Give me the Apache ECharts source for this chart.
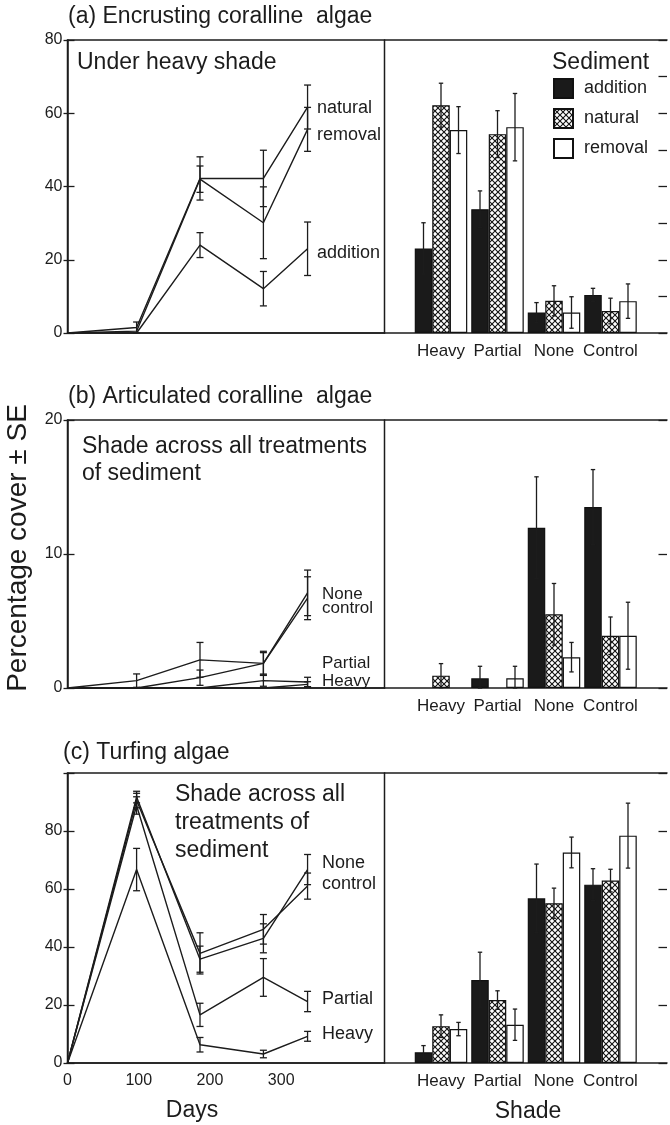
<!DOCTYPE html>
<html><head><meta charset="utf-8">
<script src="https://cdn.jsdelivr.net/npm/echarts@6/dist/echarts.min.js"></script>
<style>html,body{margin:0;padding:0;background:#fff;overflow:hidden}#c{width:670px;height:1125px}</style>
</head><body><div id="c"></div>
<script>
// ---------------- DATA ----------------
const days = [0, 97, 186, 275, 337];
const shadeCats = ['Heavy', 'Partial', 'None', 'Control'];
const sedNames = ['addition', 'natural', 'removal'];

// (a) Encrusting coralline algae – lines (under heavy shade), by sediment
const aNatural = [0, 1.5, 42.2, 42.2, 61.7];
const aNaturalSE = [0, 1.5, 5.9, 7.7, 6.0];
const aRemoval = [0, 0.5, 42.0, 30.1, 55.6];
const aRemovalSE = [0, 0, 3.6, 9.8, 6.0];
const aAddition = [0, 0, 24.0, 12.1, 23.0];
const aAdditionSE = [0, 0, 3.4, 4.7, 7.3];
// (a) bars by shade
const aBarAddition = [23.1, 33.8, 5.6, 10.4];
const aBarAdditionSE = [7.0, 5.0, 2.7, 1.8];
const aBarNatural = [62.2, 54.3, 8.8, 6.0];
const aBarNaturalSE = [6.0, 6.4, 4.1, 3.5];
const aBarRemoval = [55.4, 56.2, 5.6, 8.7];
const aBarRemovalSE = [6.4, 9.2, 4.3, 4.7];

// (b) Articulated coralline algae – lines by shade
const bNone = [0, 0.55, 2.1, 1.84, 7.1];
const bNoneSE = [0, 0.5, 1.3, 0.9, 1.7];
const bControl = [0, 0, 0.77, 1.84, 6.7];
const bControlSE = [0, 0, 0.57, 0.8, 1.6];
const bPartial = [0, 0, 0, 0.55, 0.45];
const bPartialSE = [0, 0, 0, 0.42, 0.35];
const bHeavy = [0, 0, 0, 0, 0.27];
const bHeavySE = [0, 0, 0, 0, 0.2];
// (b) bars
const bBarAddition = [0, 0.72, 11.96, 13.5];
const bBarAdditionSE = [0, 0.9, 3.8, 2.8];
const bBarNatural = [0.92, 0, 5.5, 3.9];
const bBarNaturalSE = [0.9, 0, 2.3, 1.4];
const bBarRemoval = [0, 0.72, 2.3, 3.9];
const bBarRemovalSE = [0, 0.9, 1.1, 2.5];

// (c) Turfing algae – lines by shade
const cNone = [0, 91.7, 35.8, 43.0, 66.7];
const cNoneSE = [0, 2.0, 4.5, 5.0, 5.2];
const cControl = [0, 90.5, 37.8, 46.1, 61.0];
const cControlSE = [0, 2.5, 7.1, 5.1, 4.5];
const cPartial = [0, 88.8, 16.6, 29.5, 21.2];
const cPartialSE = [0, 3.0, 4.0, 6.5, 3.5];
const cHeavy = [0, 66.7, 6.3, 3.1, 9.2];
const cHeavySE = [0, 7.3, 2.5, 1.3, 1.7];
// (c) bars
const cBarAddition = [3.7, 28.6, 56.8, 61.5];
const cBarAdditionSE = [2.3, 9.6, 11.8, 5.5];
const cBarNatural = [12.7, 21.7, 55.1, 62.9];
const cBarNaturalSE = [3.9, 3.2, 5.2, 3.9];
const cBarRemoval = [11.7, 13.2, 72.6, 78.4];
const cBarRemovalSE = [2.3, 5.4, 5.3, 11.2];

// ---------------- STYLE / LAYOUT ----------------
const FONT = '"Liberation Sans", Arial, Helvetica, sans-serif';
const INK = '#1c1c1c';
const BARW = 17.5;

function hatchCanvas() {
  const c = document.createElement('canvas');
  c.width = 6; c.height = 6;
  const g = c.getContext('2d');
  g.fillStyle = '#fff'; g.fillRect(0, 0, 6, 6);
  g.strokeStyle = '#111'; g.lineWidth = 1.1;
  g.beginPath();
  g.moveTo(0, 0); g.lineTo(6, 6);
  g.moveTo(6, 0); g.lineTo(0, 6);
  g.stroke();
  return c;
}
const hatchFill = { image: hatchCanvas(), repeat: 'repeat' };
const barFills = ['#1a1a1a', hatchFill, '#ffffff'];

const panels = [
  { top: 40, bottom: 333, ymax: 80, yint: 20, rint: 10, hideTop: false, xLabels: false,
    lines: [[aNatural, aNaturalSE], [aRemoval, aRemovalSE], [aAddition, aAdditionSE]],
    bars: [[aBarAddition, aBarAdditionSE], [aBarNatural, aBarNaturalSE], [aBarRemoval, aBarRemovalSE]] },
  { top: 420, bottom: 688, ymax: 20, yint: 10, rint: 10, hideTop: false, xLabels: false,
    lines: [[bNone, bNoneSE], [bControl, bControlSE], [bPartial, bPartialSE], [bHeavy, bHeavySE]],
    bars: [[bBarAddition, bBarAdditionSE], [bBarNatural, bBarNaturalSE], [bBarRemoval, bBarRemovalSE]] },
  { top: 773, bottom: 1063, ymax: 100, yint: 20, rint: 20, hideTop: true, xLabels: true,
    lines: [[cNone, cNoneSE], [cControl, cControlSE], [cPartial, cPartialSE], [cHeavy, cHeavySE]],
    bars: [[cBarAddition, cBarAdditionSE], [cBarNatural, cBarNaturalSE], [cBarRemoval, cBarRemovalSE]] }
];

const LEFT_X0 = 67.5, DIV_X = 384.5, RIGHT_X1 = 670.5;
const barCats = [''].concat(shadeCats, ['']);

const grid = [], xAxis = [], yAxis = [], series = [];

function errSeries(xi, yi, data, dx, cap) {
  return {
    type: 'custom', xAxisIndex: xi, yAxisIndex: yi, data: data, z: 5, silent: true,
    renderItem: function (params, api) {
      const x = api.value(0), v = api.value(1), s = api.value(2);
      if (!s) return null;
      const lo = Math.max(0, v - s);
      const p0 = api.coord([x, v + s]), p1 = api.coord([x, lo]);
      const cx = p0[0] + dx;
      const st = { stroke: INK, lineWidth: 1.3 };
      return {
        type: 'group', children: [
          { type: 'line', shape: { x1: cx, y1: p0[1], x2: cx, y2: p1[1] }, style: st },
          { type: 'line', shape: { x1: cx - cap, y1: p0[1], x2: cx + cap, y2: p0[1] }, style: st },
          { type: 'line', shape: { x1: cx - cap, y1: p1[1], x2: cx + cap, y2: p1[1] }, style: st }
        ]
      };
    }
  };
}

const AXL = { show: true, lineStyle: { color: INK, width: 1.5 } };

panels.forEach(function (p, i) {
  const h = p.bottom - p.top;
  grid.push({ left: LEFT_X0, top: p.top, width: DIV_X - LEFT_X0, height: h,
    show: true, borderColor: INK, borderWidth: 1.5, backgroundColor: 'transparent' });
  grid.push({ left: DIV_X, top: p.top, width: RIGHT_X1 - DIV_X, height: h, show: false });
  const gl = 2 * i, gr = 2 * i + 1;

  // x axes: left value (days), right bottom category, right top (frame line)
  xAxis.push({
    type: 'value', gridIndex: gl, min: 0, max: 445, interval: 100,
    axisLine: AXL, axisTick: { show: false }, splitLine: { show: false },
    axisLabel: {
      show: p.xLabels, margin: 10, fontSize: 16, color: INK, fontFamily: FONT,
      formatter: function (v) { return v > 300 ? '' : String(v); }
    }
  });
  xAxis.push({
    type: 'category', gridIndex: gr, data: barCats, boundaryGap: false, position: 'bottom',
    axisLine: AXL, axisTick: { show: false },
    axisLabel: { interval: 0, margin: 10, fontSize: 17, color: INK, fontFamily: FONT }
  });
  xAxis.push({
    type: 'category', gridIndex: gr, data: barCats, boundaryGap: false, position: 'top',
    axisLine: AXL, axisTick: { show: false }, axisLabel: { show: false }
  });

  yAxis.push({
    type: 'value', gridIndex: gl, position: 'left', min: 0, max: p.ymax, interval: p.yint,
    axisLine: AXL,
    axisTick: { show: true, inside: false, length: 4, lineStyle: { color: INK, width: 1.3 } },
    splitLine: { show: false },
    axisLabel: {
      margin: 5, fontSize: 16, color: INK, fontFamily: FONT,
      formatter: function (v) { return (p.hideTop && v === p.ymax) ? '' : String(v); }
    }
  });
  yAxis.push({
    type: 'value', gridIndex: gl, position: 'left', min: 0, max: p.ymax, interval: p.yint,
    axisLine: { show: false },
    axisTick: { show: true, inside: true, length: 7, lineStyle: { color: INK, width: 1.3 } },
    splitLine: { show: false }, axisLabel: { show: false }
  });
  yAxis.push({
    type: 'value', gridIndex: gr, position: 'right', min: 0, max: p.ymax, interval: p.rint,
    axisLine: { show: false },
    axisTick: { show: true, inside: true, length: 8.5, lineStyle: { color: INK, width: 1.3 } },
    splitLine: { show: false }, axisLabel: { show: false }
  });

  const xl = 3 * i, xr = 3 * i + 1, yl = 3 * i, yr = 3 * i + 2;

  p.lines.forEach(function (ln) {
    const vals = ln[0], se = ln[1];
    series.push({
      type: 'line', xAxisIndex: xl, yAxisIndex: yl, symbol: 'none', silent: true,
      lineStyle: { color: INK, width: 1.4 }, z: 4,
      data: days.map(function (d, k) { return [d, vals[k]]; })
    });
    series.push(errSeries(xl, yl, days.map(function (d, k) { return [d, vals[k], se[k]]; }), 0, 3.5));
  });

  p.bars.forEach(function (b, k) {
    const vals = b[0];
    series.push({
      type: 'bar', name: sedNames[k], xAxisIndex: xr, yAxisIndex: yr,
      barWidth: BARW, barGap: '0%', silent: true,
      itemStyle: { color: barFills[k], borderColor: '#111', borderWidth: 1.2 },
      data: [null].concat(vals.map(function (v) { return v > 0 ? v : null; }), [null])
    });
  });
  p.bars.forEach(function (b, k) {
    const vals = b[0], se = b[1];
    series.push(errSeries(xr, yr, vals.map(function (v, c) { return [c + 1, v, se[c]]; }), (k - 1) * BARW, 2.2));
  });
});

function txt(x, y, s, size, extra) {
  return {
    type: 'text', x: x, y: y, silent: true, z: 100,
    style: Object.assign({ text: s, fontSize: size, fontFamily: FONT, fill: INK, textVerticalAlign: 'middle' }, extra || {})
  };
}

const graphic = [
  txt(68, 17, '(a) Encrusting coralline  algae', 23),
  txt(68, 397, '(b) Articulated coralline  algae', 23),
  txt(63, 753, '(c) Turfing algae', 23),
  txt(77, 63, 'Under heavy shade', 23),
  txt(82, 447, 'Shade across all treatments', 23),
  txt(82, 474, 'of sediment', 23),
  txt(175, 795, 'Shade across all', 23),
  txt(175, 823, 'treatments of', 23),
  txt(175, 851, 'sediment', 23),
  txt(317, 108, 'natural', 18),
  txt(317, 135, 'removal', 18),
  txt(317, 253, 'addition', 18),
  txt(322, 594, 'None', 17),
  txt(322, 608, 'control', 17),
  txt(322, 663, 'Partial', 17),
  txt(322, 681, 'Heavy', 17),
  txt(322, 863, 'None', 18),
  txt(322, 884, 'control', 18),
  txt(322, 999, 'Partial', 18),
  txt(322, 1034, 'Heavy', 18),
  txt(552, 63, 'Sediment', 23),
  txt(192, 1111, 'Days', 23, { textAlign: 'center' }),
  txt(528, 1112, 'Shade', 23, { textAlign: 'center' }),
  { type: 'text', x: 18, y: 548, rotation: Math.PI / 2, silent: true, z: 100,
    style: { text: 'Percentage cover ± SE', fontSize: 28, fontFamily: FONT, fill: INK,
      textAlign: 'center', textVerticalAlign: 'middle' } }
];

const chart = echarts.init(document.getElementById('c'), null, { renderer: 'canvas' });
chart.setOption({
  animation: false,
  backgroundColor: '#ffffff',
  grid: grid, xAxis: xAxis, yAxis: yAxis, series: series, graphic: graphic,
  legend: {
    data: sedNames, left: 548, top: 73, orient: 'vertical', icon: 'rect',
    itemWidth: 19, itemHeight: 19, itemGap: 9, selectedMode: false,
    textStyle: { fontSize: 18, fontFamily: FONT, color: INK, padding: [0, 0, 0, 6] }
  }
});
</script>
</body></html>
